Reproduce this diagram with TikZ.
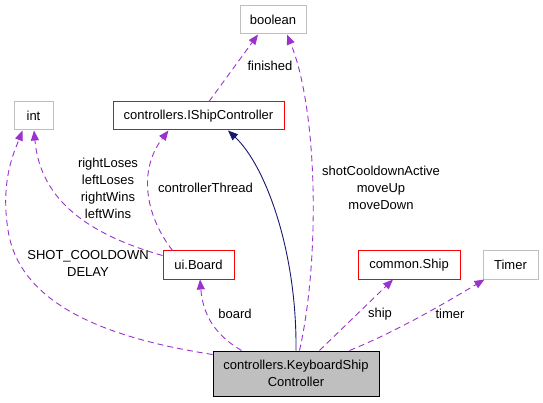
\documentclass[tikz,border=0pt]{standalone}
\usepackage{fontspec}
\setmainfont{Liberation Sans}
\usetikzlibrary{arrows.meta}
\definecolor{usecol}{HTML}{9A32CD}
\definecolor{inhcol}{HTML}{191970}
\definecolor{redbox}{HTML}{FF0000}
\definecolor{graybox}{HTML}{BFBFBF}
\begin{document}
\begin{tikzpicture}[x=1pt,y=-1pt,
  every node/.style={font=\fontsize{13}{17}\selectfont},
  box/.style={draw, line width=1pt, inner sep=0pt, minimum height=28pt, fill=white},
  redb/.style={box, draw=redbox},
  grayb/.style={box, draw=graybox},
  mainb/.style={box, draw=black, fill=graybox, minimum height=45pt, align=center},
  usage/.style={draw=usecol, line width=0.9pt, dash pattern=on 6pt off 4pt,
    -{Triangle[length=10pt,width=8pt,fill=usecol]}},
  inherit/.style={draw=inhcol, line width=0.9pt,
    -{Triangle[length=10pt,width=8pt,fill=inhcol]}},
  lbl/.style={align=center, inner sep=0pt}
]
\useasboundingbox (0,0) rectangle (543,403);
% nodes
\node[grayb, minimum width=66pt] (bool) at (273,20) {boolean};
\node[grayb, minimum width=39pt] (int) at (33.5,116) {int};
\node[redb, minimum width=171pt] (ishp) at (198.5,116) {controllers.IShipController};
\node[redb, minimum width=71pt] (board) at (198.5,265) {ui.Board};
\node[redb, minimum width=102pt] (ship) at (409,265) {common.Ship};
\node[grayb, minimum width=55pt] (timer) at (510.5,265) {Timer};
\node[mainb, minimum width=166pt] (ksc) at (296,373.5) {controllers.KeyboardShip\\Controller};
% coordinates
\coordinate (kscA) at ([yshift=-4pt]ksc.north west);
\coordinate (kscB) at ([xshift=29pt]ksc.north west);
\coordinate (kscC) at ([xshift=87pt]ksc.north west);
\coordinate (kscD) at ([xshift=107pt]ksc.north west);
\coordinate (kscE) at ([xshift=137pt]ksc.north west);
\coordinate (boardA) at ([yshift=-5pt]board.north west);
\coordinate (boardB) at ([xshift=10pt]board.north west);
% edges
\draw[inherit] (ksc.north) .. controls (297,250) and (265,165) .. ([xshift=29.5pt]ishp.south);
\draw[usage] ([xshift=10.5pt]ishp.north) -- ([xshift=-15pt]bool.south);
\draw[usage] (kscC) .. controls (320,260) and (318,110) .. ([xshift=14pt]bool.south);
\draw[usage] (kscA) .. controls (120,340) and (20,310) .. (8,230)
   .. controls (0,180) and (15,150) .. ([xshift=-11pt]int.south);
\draw[usage] (boardA) .. controls (80,232) and (40,195) .. ([xshift=0.5pt]int.south);
\draw[usage] (boardB) .. controls (145,215) and (138,170) .. ([xshift=-30pt]ishp.south);
\draw[usage] (kscB) .. controls (215,335) and (203,315) .. ([xshift=1.5pt]board.south);
\draw[usage] (kscD) -- ([xshift=-16pt]ship.south);
\draw[usage] (kscE) .. controls (400,330) and (450,300) .. ([xshift=-26pt]timer.south);
% labels
\node[lbl] (lfin) at (270,66) {finished};
\node[lbl] (lshot) at (381,188) {shotCooldownActive\\moveUp\\moveDown};
\node[lbl] (lsc) at (88,263) {SHOT\_COOLDOWN\\DELAY};
\node[lbl] (lrl) at (108,188) {rightLoses\\leftLoses\\rightWins\\leftWins};
\node[lbl] (lct) at (205.5,188) {controllerThread};
\node[lbl] (lbd) at (235,314) {board};
\node[lbl] (lsh) at (380,314) {ship};
\node[lbl] (ltm) at (450,314) {timer};
\end{tikzpicture}
\end{document}
